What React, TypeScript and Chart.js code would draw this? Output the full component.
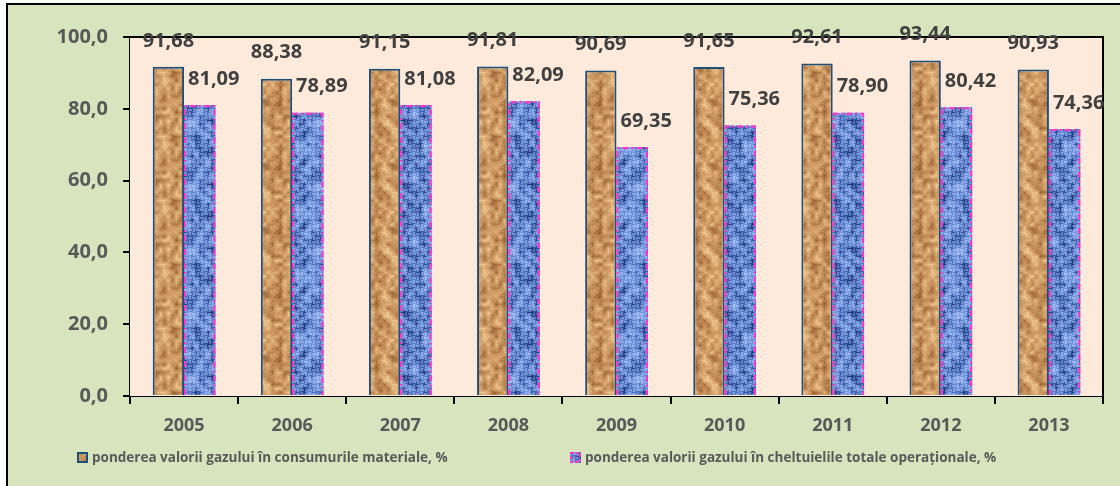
import React, { useEffect, useRef } from "react";
import { Chart, registerables } from "chart.js";

Chart.register(...registerables);

const years = ["2005", "2006", "2007", "2008", "2009", "2010", "2011", "2012", "2013"];
const materialShare = [91.68, 88.38, 91.15, 91.81, 90.69, 91.65, 92.61, 93.44, 90.93];
const operationalShare = [81.09, 78.89, 81.08, 82.09, 69.35, 75.36, 78.9, 80.42, 74.36];
const seriesNames = [
  "ponderea valorii gazului în consumurile materiale, %",
  "ponderea valorii gazului în cheltuielile totale operaționale, %",
];
const yTicks = [0, 20, 40, 60, 80, 100];

const FONT = "'Open Sans', 'Noto Sans', sans-serif";

function seeded(seed: number) {
  let a = seed >>> 0;
  return () => {
    a = (a + 0x6d2b79f5) >>> 0;
    let t = a;
    t = Math.imul(t ^ (t >>> 15), t | 1);
    t ^= t + Math.imul(t ^ (t >>> 7), t | 61);
    return ((t ^ (t >>> 14)) >>> 0) / 4294967296;
  };
}

function lerp(a: number[], b: number[], t: number) {
  return [a[0] + (b[0] - a[0]) * t, a[1] + (b[1] - a[1]) * t, a[2] + (b[2] - a[2]) * t];
}

function ramp(stops: number[][], v: number) {
  const n = stops.length - 1;
  const x = Math.max(0, Math.min(0.9999, v)) * n;
  const i = Math.floor(x);
  return lerp(stops[i], stops[i + 1], x - i);
}

function makeTexture(kind: "cork" | "weave"): CanvasPattern | string {
  const size = 64;
  const c = document.createElement("canvas");
  c.width = size;
  c.height = size;
  const ctx = c.getContext("2d");
  if (!ctx) return kind === "cork" ? "#c99565" : "#7d9fdc";
  const rnd = seeded(kind === "cork" ? 1234 : 9876);
  const g = 16;
  const grid: number[] = [];
  for (let i = 0; i < g * g; i++) grid.push(rnd());
  const img = ctx.createImageData(size, size);
  const corkStops = [
    [95, 45, 20],
    [150, 92, 48],
    [192, 138, 86],
    [218, 168, 112],
    [245, 212, 160],
  ];
  const weaveStops = [
    [28, 50, 112],
    [62, 94, 168],
    [108, 142, 212],
    [140, 172, 234],
    [190, 210, 248],
  ];
  for (let y = 0; y < size; y++) {
    for (let x = 0; x < size; x++) {
      const gx = (x / size) * g;
      const gy = (y / size) * g;
      const x0 = Math.floor(gx) % g;
      const y0 = Math.floor(gy) % g;
      const x1 = (x0 + 1) % g;
      const y1 = (y0 + 1) % g;
      const fx = gx - Math.floor(gx);
      const fy = gy - Math.floor(gy);
      const v00 = grid[y0 * g + x0];
      const v10 = grid[y0 * g + x1];
      const v01 = grid[y1 * g + x0];
      const v11 = grid[y1 * g + x1];
      let v = (v00 * (1 - fx) + v10 * fx) * (1 - fy) + (v01 * (1 - fx) + v11 * fx) * fy;
      v = v * 0.8 + rnd() * 0.2;
      let col: number[];
      if (kind === "cork") {
        col = ramp(corkStops, 0.2 + v * 0.8);
      } else {
        const cx = Math.floor(x / 4);
        const cy = Math.floor(y / 4);
        const horiz = (cx + cy) % 2 === 0;
        const inner = horiz ? (y % 4 === 1 || y % 4 === 2) : (x % 4 === 1 || x % 4 === 2);
        const weave = inner ? 0.12 : -0.12;
        col = ramp(weaveStops, Math.max(0, Math.min(1, 0.05 + v * 0.85 + weave)));
      }
      const idx = (y * size + x) * 4;
      img.data[idx] = col[0];
      img.data[idx + 1] = col[1];
      img.data[idx + 2] = col[2];
      img.data[idx + 3] = 255;
    }
  }
  ctx.putImageData(img, 0, 0);
  const p = ctx.createPattern(c, "repeat");
  return p || (kind === "cork" ? "#c99565" : "#7d9fdc");
}

const fmt = (v: number) => v.toFixed(2).replace(".", ",");

export default function App() {
  const ref = useRef<HTMLCanvasElement | null>(null);

  useEffect(() => {
    if (!ref.current) return;
    const cork = makeTexture("cork");
    const weave = makeTexture("weave");

    const plotBg = {
      id: "plotBg",
      beforeDatasetsDraw(chart: any) {
        const { ctx, chartArea: a } = chart;
        ctx.save();
        ctx.fillStyle = "#fdeada";
        ctx.fillRect(a.left, a.top, a.right - a.left, a.bottom - a.top);
        ctx.restore();
      },
    };

    const overlay = {
      id: "overlay",
      afterDatasetsDraw(chart: any) {
        const { ctx, chartArea: a } = chart;
        const meta1 = chart.getDatasetMeta(1);
        ctx.save();
        ctx.strokeStyle = "#ff33cc";
        ctx.lineWidth = 2;
        ctx.setLineDash([6, 3, 2, 3]);
        meta1.data.forEach((el: any) => {
          const p = el.getProps(["x", "y", "base", "width"], true);
          const l = p.x - p.width / 2 + 1;
          const r = p.x + p.width / 2 - 1;
          ctx.beginPath();
          ctx.moveTo(l, p.base);
          ctx.lineTo(l, p.y + 1);
          ctx.lineTo(r, p.y + 1);
          ctx.lineTo(r, p.base);
          ctx.stroke();
        });
        ctx.restore();

        ctx.save();
        ctx.strokeStyle = "#000";
        ctx.lineWidth = 2;
        ctx.beginPath();
        ctx.moveTo(a.left, a.top);
        ctx.lineTo(a.right, a.top);
        ctx.lineTo(a.right, a.bottom);
        ctx.stroke();
        ctx.restore();

        ctx.save();
        ctx.font = `bold 20px ${FONT}`;
        ctx.fillStyle = "#404040";
        ctx.textAlign = "center";
        ctx.textBaseline = "middle";
        chart.data.datasets.forEach((ds: any, di: number) => {
          const meta = chart.getDatasetMeta(di);
          meta.data.forEach((el: any, i: number) => {
            const p = el.getProps(["x", "y"], true);
            const dx = di === 1 ? 14 : 0;
            ctx.fillText(fmt(ds.data[i]), p.x + dx, p.y - 26);
          });
        });
        ctx.restore();
      },
    };

    const legendPlugin = {
      id: "customLegend",
      afterDraw(chart: any) {
        const { ctx } = chart;
        const y = 458;
        ctx.save();
        ctx.font = `bold 13.5px ${FONT}`;
        ctx.textBaseline = "middle";
        ctx.textAlign = "left";
        ctx.fillStyle = cork as any;
        ctx.fillRect(77, y - 6, 11, 11);
        ctx.strokeStyle = "#1f4e79";
        ctx.lineWidth = 2;
        ctx.strokeRect(78, y - 5, 9, 9);
        ctx.fillStyle = "#595959";
        ctx.fillText(seriesNames[0], 92, y);
        ctx.fillStyle = weave as any;
        ctx.fillRect(570, y - 6, 11, 11);
        ctx.strokeStyle = "#ff33cc";
        ctx.lineWidth = 2;
        ctx.setLineDash([3, 2]);
        ctx.strokeRect(571, y - 5, 9, 9);
        ctx.setLineDash([]);
        ctx.fillStyle = "#595959";
        ctx.fillText(seriesNames[1], 585, y);
        ctx.restore();
      },
    };

    const chart = new Chart(ref.current, {
      type: "bar",
      data: {
        labels: years,
        datasets: [
          {
            label: seriesNames[0],
            data: materialShare,
            backgroundColor: cork as any,
            borderColor: "#1f4e79",
            borderWidth: 2,
            borderSkipped: "bottom",
            categoryPercentage: 0.58,
            barPercentage: 1,
          },
          {
            label: seriesNames[1],
            data: operationalShare,
            backgroundColor: weave as any,
            borderWidth: 0,
            categoryPercentage: 0.58,
            barPercentage: 1,
          },
        ],
      },
      options: {
        responsive: false,
        maintainAspectRatio: false,
        animation: false,
        layout: { padding: { top: 37, right: 17, left: 0, bottom: 0 } },
        plugins: {
          legend: { display: false },
          tooltip: { enabled: false },
          title: { display: false },
        },
        scales: {
          x: {
            offset: true,
            grid: {
              display: true,
              offset: true,
              drawOnChartArea: false,
              drawTicks: true,
              tickLength: 8,
              color: "#000",
              lineWidth: 2,
            },
            border: { display: true, color: "#000", width: 2 },
            ticks: {
              color: "#595959",
              font: { family: FONT, size: 18, weight: "bold" },
              padding: 11,
              maxRotation: 0,
            },
            afterFit(scale: any) {
              scale.height = 90;
            },
          },
          y: {
            min: 0,
            max: 100,
            afterBuildTicks(scale: any) {
              scale.ticks = yTicks.map((v) => ({ value: v }));
            },
            grid: {
              display: true,
              drawOnChartArea: false,
              drawTicks: true,
              tickLength: 7,
              color: "#000",
              lineWidth: 2,
            },
            border: { display: true, color: "#000", width: 2 },
            ticks: {
              color: "#595959",
              font: { family: FONT, size: 20, weight: "bold" },
              padding: 15,
              callback: (v: any) => Number(v).toFixed(1).replace(".", ","),
            },
            afterFit(scale: any) {
              scale.width = 130;
            },
          },
        },
      },
      plugins: [plotBg, overlay, legendPlugin],
    });

    return () => chart.destroy();
  }, []);

  return (
    <div style={{ position: "fixed", left: 0, top: 0, width: 1120, height: 486, overflow: "hidden", background: "#fff" }}>
      <div
        style={{
          position: "absolute",
          left: 6,
          top: 3,
          width: 1130,
          height: 500,
          background: "#d7e4bd",
          border: "2px solid #000",
        }}
      />
      <canvas ref={ref} width={1120} height={486} style={{ position: "absolute", left: 0, top: 0, width: 1120, height: 486 }} />
    </div>
  );
}
